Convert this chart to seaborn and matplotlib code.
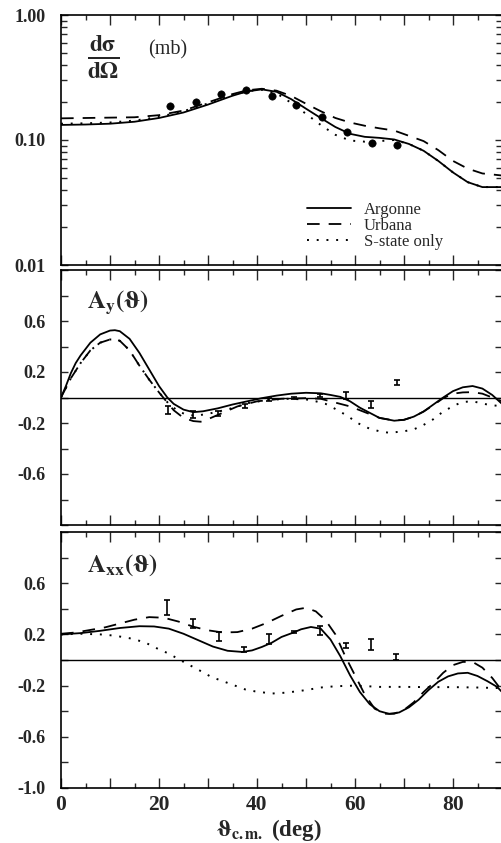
import numpy as np
import pandas as pd
import matplotlib
matplotlib.use("Agg")
import matplotlib.pyplot as plt
from matplotlib.lines import Line2D
from matplotlib.ticker import FixedLocator, FixedFormatter, MultipleLocator, FuncFormatter, NullFormatter
import seaborn as sns

# ---------------- data ----------------
# Differential cross section (mb)
xs_data_deg = [22.2, 27.5, 32.6, 37.8, 43.0, 48.0, 53.2, 58.3, 63.4, 68.5]
xs_data_val = [0.187, 0.203, 0.235, 0.250, 0.225, 0.190, 0.154, 0.116, 0.095, 0.092]

xs_arg_deg = [0, 5, 10, 15, 20, 25, 30, 35, 38, 41, 44, 47, 50, 53, 56, 59, 62, 65, 68, 71, 74, 77, 80, 83, 86, 90]
xs_arg_val = [0.132, 0.133, 0.135, 0.140, 0.150, 0.166, 0.192, 0.226, 0.245, 0.254, 0.243, 0.212, 0.178, 0.150,
              0.127, 0.112, 0.106, 0.104, 0.101, 0.093, 0.082, 0.068, 0.055, 0.046, 0.042, 0.042]
xs_urb_deg = [0, 5, 10, 15, 20, 25, 30, 35, 38, 41, 44, 47, 50, 53, 56, 59, 62, 65, 68, 71, 74, 77, 80, 83, 86, 90]
xs_urb_val = [0.149, 0.150, 0.151, 0.152, 0.158, 0.172, 0.200, 0.233, 0.250, 0.257, 0.248, 0.225, 0.195, 0.170,
              0.150, 0.138, 0.130, 0.124, 0.119, 0.108, 0.098, 0.083, 0.068, 0.059, 0.054, 0.052]
xs_s_deg = [0, 5, 10, 15, 20, 25, 30, 35, 38, 41, 44, 47, 50, 53, 56, 59, 62, 65, 68, 71, 74, 77, 80, 83, 86, 90]
xs_s_val = [0.135, 0.136, 0.138, 0.143, 0.153, 0.170, 0.196, 0.228, 0.246, 0.252, 0.236, 0.198, 0.162, 0.132,
            0.110, 0.099, 0.097, 0.098, 0.100, 0.093, 0.082, 0.068, 0.055, 0.046, 0.042, 0.042]

# Vector analyzing power A_y
ay_data_deg = [21.9, 27.0, 32.1, 37.5, 42.5, 47.5, 52.8, 58.2, 63.3, 68.5]
ay_data_val = [-0.100, -0.133, -0.128, -0.068, -0.016, -0.003, 0.016, 0.016, -0.055, 0.115]
ay_data_err = [0.030, 0.030, 0.020, 0.015, 0.015, 0.010, 0.015, 0.025, 0.025, 0.020]

ay_arg_deg = [0, 1, 2, 3, 4, 6, 8, 10, 11, 12, 14, 16, 18, 20, 21.7, 23, 25, 27, 29, 32, 35, 38, 41, 44, 47, 50,
              53, 55, 57, 59, 61, 63, 65, 68, 70, 72, 74, 76, 78, 80, 82, 84, 86, 88, 90]
ay_arg_val = [0.0, 0.09, 0.19, 0.27, 0.33, 0.43, 0.495, 0.525, 0.528, 0.52, 0.46, 0.35, 0.22, 0.09, 0.0, -0.05,
              -0.095, -0.115, -0.108, -0.085, -0.055, -0.03, -0.005, 0.015, 0.03, 0.037, 0.033, 0.02, 0.005,
              -0.03, -0.08, -0.12, -0.16, -0.182, -0.175, -0.15, -0.11, -0.055, 0.0, 0.05, 0.08, 0.09, 0.07,
              0.02, -0.05]
ay_urb_deg = [0, 2, 4, 6, 8, 10, 11, 12, 14, 16, 18, 20, 21.5, 23, 25, 27, 28.5, 30, 33, 36, 40, 45, 50, 53,
              55, 57, 59, 61, 63, 65, 68, 70, 72, 74, 76, 78, 80, 82, 84, 86, 88, 90]
ay_urb_val = [0.0, 0.15, 0.27, 0.37, 0.43, 0.455, 0.455, 0.445, 0.37, 0.25, 0.14, 0.04, -0.03, -0.10, -0.16,
              -0.185, -0.19, -0.17, -0.12, -0.07, -0.03, -0.01, -0.005, -0.01, -0.03, -0.05, -0.07, -0.10,
              -0.13, -0.16, -0.18, -0.175, -0.15, -0.11, -0.06, -0.005, 0.03, 0.04, 0.042, 0.03, 0.0, -0.03]
ay_s_deg = [0, 2, 4, 6, 8, 10, 11, 12, 14, 16, 18, 20, 22, 24, 26, 28, 30, 34, 38, 42, 46, 50, 52, 54, 56,
            58.5, 60.5, 63, 65, 67, 70, 72, 74, 76, 78, 80.4, 82, 84, 87, 90]
ay_s_val = [0.0, 0.15, 0.27, 0.37, 0.43, 0.455, 0.455, 0.445, 0.37, 0.25, 0.14, 0.04, -0.05, -0.11, -0.14,
            -0.14, -0.128, -0.094, -0.045, -0.02, -0.01, -0.015, -0.03, -0.05, -0.09, -0.145, -0.20, -0.245,
            -0.265, -0.277, -0.265, -0.25, -0.215, -0.17, -0.11, -0.06, -0.035, -0.03, -0.055, -0.07]

# Tensor analyzing power A_xx
axx_data_deg = [21.6, 26.9, 32.2, 37.4, 42.5, 47.6, 52.9, 58.1, 63.3, 68.4]
axx_data_val = [0.408, 0.285, 0.180, 0.081, 0.167, 0.220, 0.233, 0.110, 0.120, 0.024]
axx_data_err = [0.060, 0.035, 0.035, 0.020, 0.040, 0.010, 0.035, 0.020, 0.045, 0.025]

axx_arg_deg = [0, 4, 8, 12, 16, 19, 22, 25, 28, 31, 34, 37, 39, 41, 43, 45, 47.4, 49, 51, 53, 55, 57, 59, 61,
               63, 65, 67, 69, 71, 73, 75, 77, 79, 81, 83, 85, 87, 89, 90]
axx_arg_val = [0.20, 0.21, 0.228, 0.25, 0.264, 0.262, 0.245, 0.205, 0.155, 0.105, 0.072, 0.063, 0.075, 0.102,
               0.135, 0.18, 0.214, 0.24, 0.258, 0.245, 0.16, 0.03, -0.12, -0.25, -0.345, -0.40, -0.421, -0.41,
               -0.37, -0.31, -0.235, -0.17, -0.128, -0.105, -0.10, -0.125, -0.165, -0.21, -0.25]
axx_urb_deg = [0, 3, 6, 9, 12, 15, 18, 21, 24, 27, 30, 33, 36, 39, 42, 45, 48, 50, 52, 54, 56, 58, 60, 62,
               64, 66, 68, 70, 72, 74, 76, 78, 80, 82, 84, 86, 88, 90]
axx_urb_val = [0.205, 0.215, 0.235, 0.255, 0.285, 0.315, 0.335, 0.33, 0.30, 0.26, 0.232, 0.215, 0.218, 0.245,
               0.29, 0.345, 0.395, 0.408, 0.38, 0.31, 0.20, 0.03, -0.12, -0.27, -0.38, -0.42, -0.42, -0.39,
               -0.33, -0.25, -0.18, -0.10, -0.04, -0.015, -0.015, -0.06, -0.14, -0.24]
axx_s_deg = [0, 4, 8, 11, 14, 17, 20, 22, 24.3, 26, 28.7, 30.7, 34.8, 37.6, 39.6, 43, 46, 50, 53, 56, 60, 65,
             70, 75, 80, 85, 90]
axx_s_val = [0.20, 0.205, 0.20, 0.19, 0.17, 0.14, 0.083, 0.05, 0.0, -0.035, -0.09, -0.133, -0.19, -0.23,
             -0.245, -0.262, -0.255, -0.235, -0.215, -0.205, -0.20, -0.21, -0.21, -0.212, -0.212, -0.215, -0.22]

legend_labels = ["Argonne", "Urbana", "S-state only"]

# ---------------- style ----------------
sns.set_style("ticks")
plt.rcParams["font.family"] = ["Liberation Serif", "DejaVu Serif"]
plt.rcParams["mathtext.fontset"] = "stix"
plt.rcParams["axes.linewidth"] = 1.2

W, H = 501, 843
fig = plt.figure(figsize=(W / 100, H / 100), dpi=100)

def frac(left, top, right, bottom):
    return [left / W, 1 - bottom / H, (right - left) / W, (bottom - top) / H]

ax1 = fig.add_axes(frac(61, 15, 502, 265))
ax2 = fig.add_axes(frac(61, 270, 502, 525))
ax3 = fig.add_axes(frac(61, 532, 502, 788))

SOLID = "-"
DASH = (0, (7, 5))
DOT = (0, (1, 4))
LW = 1.3

def curves(ax, xa, ya, xu, yu, xs_, ys_):
    sns.lineplot(x=xa, y=ya, ax=ax, color="black", lw=LW, linestyle=SOLID, sort=False, estimator=None)
    sns.lineplot(x=xu, y=yu, ax=ax, color="black", lw=LW, linestyle=DASH, sort=False, estimator=None)
    sns.lineplot(x=xs_, y=ys_, ax=ax, color="black", lw=1.4, linestyle=DOT, sort=False, estimator=None)

# Panel 1: cross section
curves(ax1, xs_arg_deg, xs_arg_val, xs_urb_deg, xs_urb_val, xs_s_deg, xs_s_val)
sns.scatterplot(x=xs_data_deg, y=xs_data_val, ax=ax1, color="black", s=28, edgecolor="black", zorder=5)
ax1.set_yscale("log")
ax1.set_ylim(0.01, 1.0)
ax1.yaxis.set_major_locator(FixedLocator([0.01, 0.1, 1.0]))
ax1.yaxis.set_major_formatter(FixedFormatter(["0.01", "0.10", "1.00"]))
ax1.yaxis.set_minor_locator(FixedLocator([k * 10.0 ** e for e in (-2, -1) for k in range(2, 10)]))
ax1.yaxis.set_minor_formatter(NullFormatter())
ax1.text(0.058, 0.832, r"$\frac{\mathbf{d\sigma}}{\mathbf{d\Omega}}$", transform=ax1.transAxes,
         fontsize=24, va="center", ha="left")
ax1.text(0.198, 0.862, "(mb)", transform=ax1.transAxes, fontsize=14.5, va="center", ha="left")
handles = [Line2D([], [], color="black", lw=LW, linestyle=SOLID),
           Line2D([], [], color="black", lw=LW, linestyle=DASH),
           Line2D([], [], color="black", lw=1.4, linestyle=DOT)]
ax1.legend(handles, legend_labels, loc="upper left", bbox_to_anchor=(0.54, 0.285), frameon=False,
           fontsize=12, handlelength=2.6, handletextpad=0.8, labelspacing=0.0, borderpad=0.0)

# Panel 2: A_y
ax2.axhline(0, color="black", lw=1.0)
curves(ax2, ay_arg_deg, ay_arg_val, ay_urb_deg, ay_urb_val, ay_s_deg, ay_s_val)
ax2.errorbar(ay_data_deg, ay_data_val, yerr=ay_data_err, fmt="none", ecolor="black", elinewidth=1.2,
             capsize=2.5, capthick=1.2, zorder=5)
ax2.set_ylim(-1.0, 1.0)
ax2.text(0.06, 0.87, r"$\mathbf{A_y(\vartheta)}$", transform=ax2.transAxes, fontsize=18, va="center")

# Panel 3: A_xx
ax3.axhline(0, color="black", lw=1.0)
curves(ax3, axx_arg_deg, axx_arg_val, axx_urb_deg, axx_urb_val, axx_s_deg, axx_s_val)
ax3.errorbar(axx_data_deg, axx_data_val, yerr=axx_data_err, fmt="none", ecolor="black", elinewidth=1.2,
             capsize=2.5, capthick=1.2, zorder=5)
ax3.set_ylim(-1.0, 1.0)
ax3.text(0.06, 0.87, r"$\mathbf{A_{xx}(\vartheta)}$", transform=ax3.transAxes, fontsize=18, va="center")

for ax, labels in ((ax2, {0.6: "0.6", 0.2: "0.2", -0.2: "-0.2", -0.6: "-0.6"}),
                   (ax3, {0.6: "0.6", 0.2: "0.2", -0.2: "-0.2", -0.6: "-0.6", -1.0: "-1.0"})):
    locs = [round(v, 1) for v in np.arange(-1.0, 1.01, 0.2)]
    ax.yaxis.set_major_locator(FixedLocator(locs))
    ax.yaxis.set_major_formatter(FixedFormatter([labels.get(round(v, 1), "") for v in locs]))

for ax in (ax1, ax2, ax3):
    ax.set_xlim(0, 90)
    ax.xaxis.set_major_locator(MultipleLocator(10))
    ax.xaxis.set_minor_locator(MultipleLocator(5))
    ax.tick_params(axis="both", which="both", direction="in", top=True, right=True, width=1.0)
    ax.tick_params(axis="x", which="major", length=7)
    ax.tick_params(axis="x", which="minor", length=3.5)
    ax.tick_params(axis="y", which="major", length=5, labelsize=13, pad=11)
    ax.tick_params(axis="y", which="minor", length=4)
    for lab in ax.get_yticklabels():
        lab.set_fontweight("bold")
    ax.set_xlabel("")
    ax.set_ylabel("")
    for sp in ax.spines.values():
        sp.set_visible(True)
        sp.set_color("black")

ax1.set_xticklabels([])
ax2.set_xticklabels([])
ax3.xaxis.set_major_formatter(FuncFormatter(lambda v, p: f"{int(round(v))}" if int(round(v)) % 20 == 0 and v < 89 else ""))
ax3.tick_params(axis="x", labelsize=15.5, pad=5)
for lab in ax3.get_xticklabels():
    lab.set_fontweight("bold")
ax3.set_xlabel(r"$\mathbf{\vartheta_{c.m.}}$ (deg)", fontsize=16.5, fontweight="bold")
ax3.xaxis.set_label_coords(208 / 441, -0.115)

fig.savefig("out.png", dpi=100)
